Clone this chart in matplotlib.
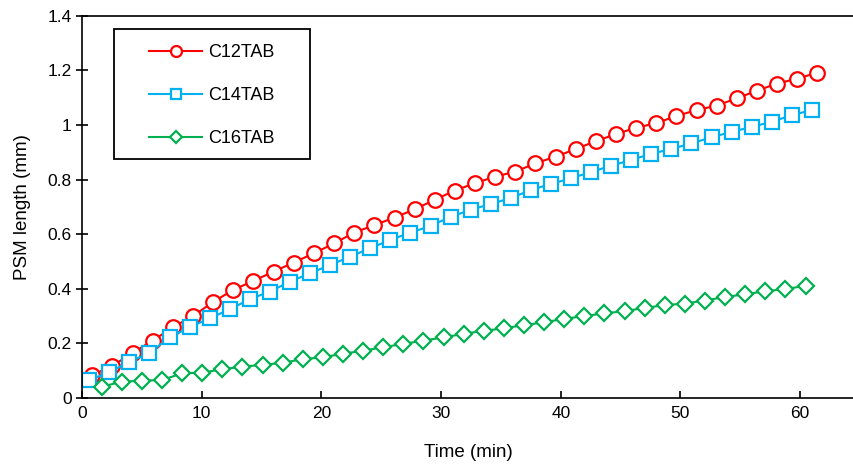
import matplotlib
matplotlib.use("Agg")
import matplotlib.pyplot as plt
from matplotlib.patches import Rectangle
from matplotlib.ticker import FormatStrFormatter

plt.rcParams['font.family'] = ['Liberation Sans', 'DejaVu Sans']

# Time (min) and PSM length (mm) for each surfactant
t_c12 = [0.86, 2.54, 4.23, 5.91, 7.59, 9.28, 10.96, 12.64, 14.32, 16.01, 17.69, 19.37,
         21.06, 22.74, 24.42, 26.11, 27.79, 29.47, 31.15, 32.84, 34.52, 36.20, 37.89,
         39.57, 41.25, 42.94, 44.62, 46.30, 47.98, 49.67, 51.35, 53.03, 54.72, 56.40,
         58.08, 59.77, 61.45]
len_c12 = [0.084, 0.117, 0.166, 0.210, 0.259, 0.300, 0.352, 0.396, 0.429, 0.463, 0.496,
           0.530, 0.566, 0.606, 0.633, 0.661, 0.691, 0.726, 0.760, 0.787, 0.811, 0.829,
           0.860, 0.884, 0.912, 0.941, 0.967, 0.990, 1.007, 1.033, 1.055, 1.071, 1.098,
           1.126, 1.152, 1.170, 1.192]

t_c14 = [0.61, 2.29, 3.96, 5.64, 7.32, 8.99, 10.67, 12.35, 14.03, 15.70, 17.38, 19.06,
         20.73, 22.41, 24.09, 25.77, 27.44, 29.12, 30.80, 32.47, 34.15, 35.83, 37.50,
         39.18, 40.86, 42.54, 44.21, 45.89, 47.57, 49.24, 50.92, 52.60, 54.27, 55.95,
         57.63, 59.31, 60.98]
len_c14 = [0.066, 0.094, 0.133, 0.164, 0.222, 0.259, 0.292, 0.325, 0.362, 0.390, 0.426,
           0.457, 0.487, 0.518, 0.549, 0.579, 0.606, 0.630, 0.664, 0.689, 0.711, 0.732,
           0.762, 0.784, 0.805, 0.828, 0.851, 0.872, 0.895, 0.912, 0.933, 0.955, 0.975,
           0.993, 1.012, 1.036, 1.055]

t_c16 = [1.65, 3.33, 5.01, 6.69, 8.37, 10.05, 11.73, 13.41, 15.09, 16.77, 18.45, 20.13,
         21.81, 23.49, 25.17, 26.85, 28.53, 30.21, 31.89, 33.57, 35.25, 36.93, 38.61,
         40.29, 41.97, 43.65, 45.33, 47.01, 48.69, 50.37, 52.05, 53.73, 55.41, 57.09,
         58.77, 60.45]
len_c16 = [0.041, 0.060, 0.063, 0.066, 0.090, 0.093, 0.105, 0.115, 0.121, 0.129, 0.142,
           0.149, 0.162, 0.173, 0.186, 0.198, 0.210, 0.222, 0.235, 0.246, 0.255, 0.267,
           0.277, 0.290, 0.300, 0.310, 0.318, 0.330, 0.340, 0.346, 0.357, 0.370, 0.380,
           0.391, 0.399, 0.411]

labels = ['C12TAB', 'C14TAB', 'C16TAB']
x_ticks = [0, 10, 20, 30, 40, 50, 60]
y_ticks = [0, 0.2, 0.4, 0.6, 0.8, 1.0, 1.2, 1.4]

fig = plt.figure(figsize=(8.54, 4.66), dpi=100)
ax = fig.add_axes([0.096, 0.146, 0.904, 0.820])

ax.plot(t_c12, len_c12, color='#FF0000', lw=1.5, marker='o', ms=10.5,
        mfc='white', mec='#FF0000', mew=1.6, label=labels[0])
ax.plot(t_c14, len_c14, color='#00B0F0', lw=1.5, marker='s', ms=10,
        mfc='white', mec='#00B0F0', mew=1.6, label=labels[1])
ax.plot(t_c16, len_c16, color='#00B050', lw=1.5, marker='D', ms=8.5,
        mfc='white', mec='#00B050', mew=1.6, label=labels[2])

ax.set_xlim(0, 64.5)
ax.set_ylim(0, 1.4)
ax.set_xticks(x_ticks)
ax.set_yticks(y_ticks)
ax.yaxis.set_major_formatter(FormatStrFormatter('%g'))
ax.tick_params(axis='x', direction='in', length=5, width=1.2, labelsize=12.5, pad=6)
ax.tick_params(axis='y', direction='inout', length=9, width=1.2, labelsize=12.5, pad=3)

for side in ['left', 'bottom', 'top']:
    ax.spines[side].set_linewidth(1.2)
    ax.spines[side].set_color('black')
ax.spines['right'].set_visible(False)

ax.set_xlabel('Time (min)', fontsize=13.5, labelpad=16)
ax.set_ylabel('PSM length (mm)', fontsize=13.5, labelpad=12)

# legend with a square black frame drawn by hand
leg = ax.legend(loc='upper left', bbox_to_anchor=(0.078, 0.945), frameon=False,
                fontsize=13, handlelength=2.9, handletextpad=0.35,
                labelspacing=1.44, markerscale=0.75, borderaxespad=0)
ax.add_patch(Rectangle((0.0415, 0.626), 0.254, 0.340, transform=ax.transAxes,
                       fill=False, edgecolor='black', lw=1.3, zorder=5, clip_on=False))

fig.savefig('out.png', dpi=100)
